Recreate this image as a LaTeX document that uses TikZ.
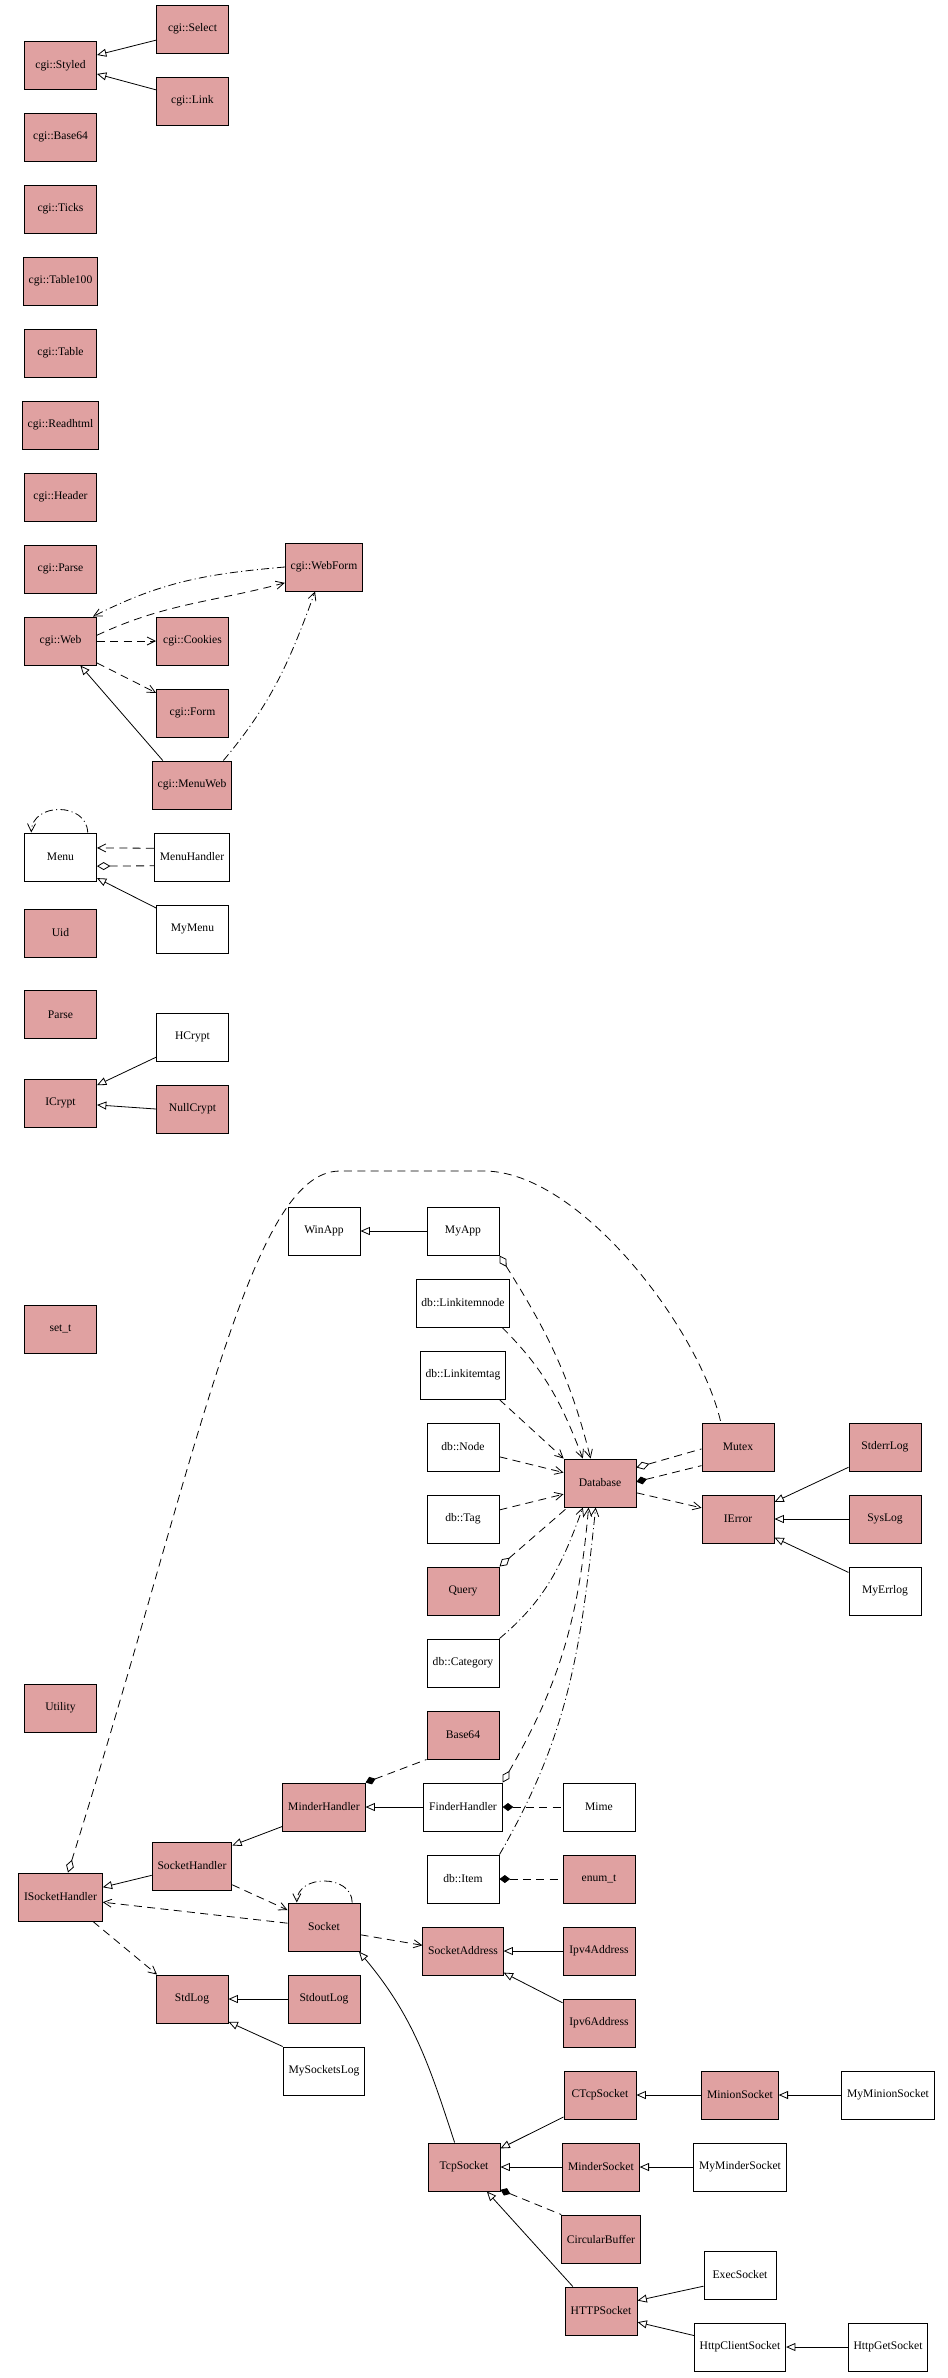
\documentclass[tikz,border=0pt]{standalone}
\usepackage{fontspec}
\setmainfont{Liberation Serif}
\usetikzlibrary{arrows.meta}
\definecolor{rosa}{RGB}{224,161,161}

\begin{document}
\begin{tikzpicture}[x=0.75pt, y=-0.75pt,
  caja/.style={draw, line width=0.75pt, minimum width=54pt, minimum height=36pt,
    inner xsep=4pt, font=\fontsize{8.7}{10}\selectfont},
  clase/.style={caja, fill=rosa},
  claseb/.style={caja, fill=white},
  linea/.style={line width=0.6pt},
  rayas/.style={dash pattern=on 6pt off 4pt},
  rayapunto/.style={dash pattern=on 6pt off 2.5pt on 0.8pt off 2.5pt},
  hereda/.style={linea, -{Triangle[open,length=7pt,width=6pt]}},
  depende/.style={linea, rayas, -{Straight Barb[length=6pt,width=6pt]}},
  usa/.style={linea, rayapunto, -{Straight Barb[length=6pt,width=6pt]}},
  agrega/.style={linea, rayas, {Diamond[open,length=10pt,width=6pt]}-},
  agregaf/.style={linea, rayas, {Diamond[open,length=10pt,width=6pt]}-{Straight Barb[length=6pt,width=6pt]}},
  compone/.style={linea, rayas, {Diamond[length=8pt,width=6pt]}-}]
  \useasboundingbox (0,0) rectangle (948,2378);

  % Clases cgi
  \node[clase] (styled) at (60.5,65.5) {cgi::Styled};
  \node[clase] (select) at (192.5,29) {cgi::Select};
  \node[clase] (link) at (192.5,101) {cgi::Link};
  \node[clase] (cbase) at (60.5,137) {cgi::Base64};
  \node[clase] (ticks) at (60.5,209) {cgi::Ticks};
  \node[clase] (tablecien) at (60.5,281) {cgi::Table100};
  \node[clase] (table) at (60.5,353) {cgi::Table};
  \node[clase] (readhtml) at (60.5,425) {cgi::Readhtml};
  \node[clase] (header) at (60.5,497) {cgi::Header};
  \node[clase] (cparse) at (60.5,569) {cgi::Parse};
  \node[clase] (web) at (60.5,641) {cgi::Web};
  \node[clase] (webform) at (324,567) {cgi::WebForm};
  \node[clase] (cookies) at (192.5,641) {cgi::Cookies};
  \node[clase] (form) at (192.5,713) {cgi::Form};
  \node[clase] (menuweb) at (192,785) {cgi::MenuWeb};

  % Menu y cifrado
  \node[claseb] (menu) at (60.5,857) {Menu};
  \node[claseb] (menuhandler) at (192,857) {MenuHandler};
  \node[claseb] (mymenu) at (192.5,929) {MyMenu};
  \node[clase] (uid) at (60.5,933) {Uid};
  \node[clase] (parse) at (60.5,1014.5) {Parse};
  \node[claseb] (hcrypt) at (192.5,1037) {HCrypt};
  \node[clase] (icrypt) at (60.5,1103) {ICrypt};
  \node[clase] (nullcrypt) at (192.5,1109) {NullCrypt};

  % Aplicacion y base de datos
  \node[claseb] (winapp) at (324,1231) {WinApp};
  \node[claseb] (myapp) at (463,1231) {MyApp};
  \node[clase] (sett) at (60.5,1329) {set\_t};
  \node[claseb] (linknode) at (463,1303) {db::Linkitemnode};
  \node[claseb] (linktag) at (463,1375) {db::Linkitemtag};
  \node[claseb] (dbnode) at (463,1447) {db::Node};
  \node[claseb] (dbtag) at (463,1519) {db::Tag};
  \node[clase] (query) at (463,1591) {Query};
  \node[claseb] (category) at (463,1663) {db::Category};
  \node[clase] (database) at (600,1483) {Database};
  \node[clase] (mutex) at (738,1447) {Mutex};
  \node[clase] (ierror) at (738,1519) {IError};
  \node[clase] (stderrlog) at (885,1447) {StderrLog};
  \node[clase] (syslog) at (885,1519) {SysLog};
  \node[claseb] (myerrlog) at (885,1591) {MyErrlog};
  \node[clase] (utility) at (60.5,1708) {Utility};

  % Sockets
  \node[clase] (base) at (463,1735) {Base64};
  \node[clase] (minderhandler) at (324,1807) {MinderHandler};
  \node[claseb] (finderhandler) at (463,1807) {FinderHandler};
  \node[claseb] (mime) at (599,1807) {Mime};
  \node[clase] (sockethandler) at (192,1866) {SocketHandler};
  \node[claseb] (dbitem) at (463,1879) {db::Item};
  \node[clase] (enumt) at (599,1879) {enum\_t};
  \node[clase] (isockethandler) at (60.5,1897) {ISocketHandler};
  \node[clase] (socket) at (324,1927) {Socket};
  \node[clase] (socketaddress) at (463,1951) {SocketAddress};
  \node[clase] (ipvfour) at (599,1951) {Ipv4Address};
  \node[clase] (stdlog) at (192,1999) {StdLog};
  \node[clase] (stdoutlog) at (324,1999) {StdoutLog};
  \node[clase] (ipvsix) at (599,2023) {Ipv6Address};
  \node[claseb] (mysocketslog) at (324,2071) {MySocketsLog};
  \node[clase] (ctcpsocket) at (600,2095) {CTcpSocket};
  \node[clase] (minionsocket) at (740,2095) {MinionSocket};
  \node[claseb] (myminionsocket) at (888,2095) {MyMinionSocket};
  \node[clase] (tcpsocket) at (464,2167) {TcpSocket};
  \node[clase] (mindersocket) at (601,2167) {MinderSocket};
  \node[claseb] (mymindersocket) at (740,2167) {MyMinderSocket};
  \node[clase] (circularbuffer) at (601,2239) {CircularBuffer};
  \node[claseb] (execsocket) at (740,2275) {ExecSocket};
  \node[clase] (httpsocket) at (601,2311) {HTTPSocket};
  \node[claseb] (httpclientsocket) at (740,2347) {HttpClientSocket};
  \node[claseb] (httpgetsocket) at (888,2347) {HttpGetSocket};

  % Herencias
  \draw[hereda] (select.197) -- (styled.16);
  \draw[hereda] (link.163) -- (styled.-13);
  \draw[hereda] (menuweb.140) -- (web.-51);
  \draw[hereda] (mymenu.150) -- (menu.-30);
  \draw[hereda] (hcrypt.209) -- (icrypt.26);
  \draw[hereda] (nullcrypt.west) -- (icrypt.-3);
  \draw[hereda] (myapp) -- (winapp);
  \draw[hereda] (stderrlog.209) -- (ierror.25);
  \draw[hereda] (syslog) -- (ierror);
  \draw[hereda] (myerrlog.153) -- (ierror.-27);
  \draw[hereda] (finderhandler) -- (minderhandler);
  \draw[hereda] (minderhandler.205) -- (sockethandler.27);
  \draw[hereda] (sockethandler.193) -- (isockethandler.13);
  \draw[hereda] (stdoutlog) -- (stdlog);
  \draw[hereda] (mysocketslog.north west) -- (stdlog.-32);
  \draw[hereda] (ipvfour) -- (socketaddress);
  \draw[hereda] (ipvsix.151) -- (socketaddress.-28);
  \draw[hereda] (tcpsocket.111) to[out=108,in=-50] (socket.-35);
  \draw[hereda] (ctcpsocket.211) -- (tcpsocket.27);
  \draw[hereda] (mindersocket) -- (tcpsocket);
  \draw[hereda] (httpsocket.139) -- (tcpsocket.-47);
  \draw[hereda] (minionsocket) -- (ctcpsocket);
  \draw[hereda] (myminionsocket) -- (minionsocket);
  \draw[hereda] (mymindersocket) -- (mindersocket);
  \draw[hereda] (execsocket.197) -- (httpsocket.16);
  \draw[hereda] (httpclientsocket.166) -- (httpsocket.-17);
  \draw[hereda] (httpgetsocket) -- (httpclientsocket);

  % Dependencias cgi y Menu
  \draw[usa] (webform.west) to[out=185,in=27] (web.37);
  \draw[depende] (web.9) to[out=25,in=195] (webform.202);
  \draw[depende] (web) -- (cookies);
  \draw[depende] (web.-31) -- (form.151);
  \draw[usa] (menuweb.38) to[out=50,in=250] (webform.-110);
  \draw[usa] (menu.42) .. controls (87,802) and (32,802) .. (menu.140);
  \draw[depende] (menuhandler.167) -- (menu.14);
  \draw[agrega] (menu.-14) -- (menuhandler.193);

  % Relaciones de Database
  \draw[agregaf] (myapp.south east) to[out=-58,in=104] (database.111);
  \draw[depende] (linknode.-32) to[out=-45,in=111] (database.125);
  \draw[depende] (linktag.-34) -- (database.146);
  \draw[depende] (dbnode.-15) -- (database.164);
  \draw[depende] (dbtag.14) -- (database.197);
  \draw[agrega] (query.north east) -- (database.217);
  \draw[usa] (category.north east) to[out=40,in=250] (database.-125);
  \draw[agregaf] (finderhandler.north east) to[out=60,in=265] (database.-115);
  \draw[usa] (dbitem.north east) to[out=60,in=264] (database.-100);
  \draw[agrega] (database.23) -- (mutex.183);
  \draw[compone] (database.2) -- (mutex.207);
  \draw[depende] (database.-15) -- (ierror.163);

  % Curva larga hasta Mutex
  \draw[agrega] (isockethandler.73) .. controls (200,1450) and (250,1171) .. (340,1171)
    -- (484,1171) .. controls (580,1171) and (700,1330) .. (mutex.125);

  % Composiciones y dependencias de sockets
  \draw[compone] (minderhandler.north east) -- (base.south west);
  \draw[compone] (finderhandler) -- (mime);
  \draw[compone] (dbitem) -- (enumt);
  \draw[depende] (sockethandler.-25) -- (socket.155);
  \draw[depende] (socket.174) -- (isockethandler.-7);
  \draw[usa] (socket.41) .. controls (352,1874) and (297,1874) .. (socket.138);
  \draw[depende] (isockethandler.-37) -- (stdlog.145);
  \draw[depende] (socket.-12) -- (socketaddress.172);
  \draw[compone] (tcpsocket.-32) -- (circularbuffer.north west);
\end{tikzpicture}
\end{document}
